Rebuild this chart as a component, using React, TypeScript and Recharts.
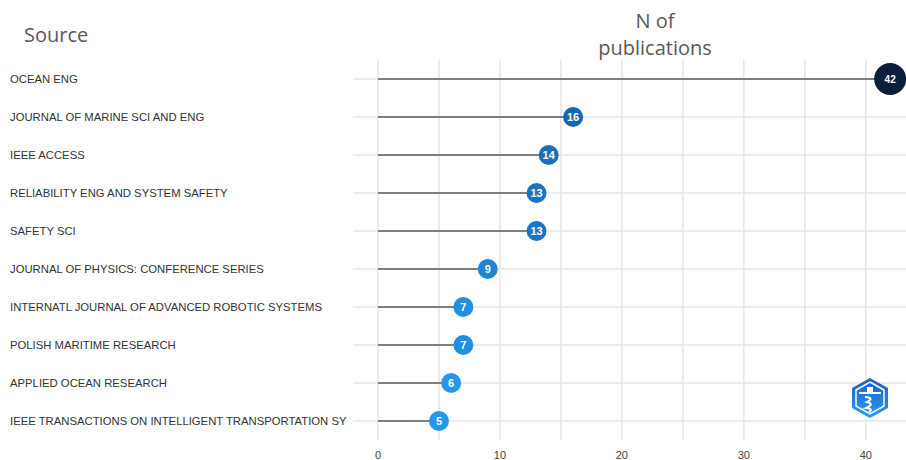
import React from "react";
import { BarChart, Bar, XAxis, YAxis, CartesianGrid } from "recharts";

const sources = [
  "OCEAN ENG",
  "JOURNAL OF MARINE SCI AND ENG",
  "IEEE ACCESS",
  "RELIABILITY ENG AND SYSTEM SAFETY",
  "SAFETY SCI",
  "JOURNAL OF PHYSICS: CONFERENCE SERIES",
  "INTERNATL JOURNAL OF ADVANCED ROBOTIC SYSTEMS",
  "POLISH MARITIME RESEARCH",
  "APPLIED OCEAN RESEARCH",
  "IEEE TRANSACTIONS ON INTELLIGENT TRANSPORTATION SY",
];
const publications = [42, 16, 14, 13, 13, 9, 7, 7, 6, 5];
const gridTicks = [0, 5, 10, 15, 20, 25, 30, 35, 40];
const xDomain = [-2.05, 43.3];

const data = sources.map((source, i) => ({ source, n: publications[i] }));

// continuous colour scale, dark navy for the biggest source
function dotColor(v: number) {
  if (v >= 30) return "#0b1f3b";
  if (v >= 16) return "#1767ad";
  if (v >= 14) return "#196fb9";
  if (v >= 13) return "#1b75c1";
  if (v >= 9) return "#1f86d4";
  if (v >= 7) return "#2290e2";
  return "#2598ec";
}

const Lollipop = (props: any) => {
  const { x, y, width, height, value } = props;
  const cy = y + height / 2;
  const cx = x + width;
  const big = value >= 30;
  const r = big ? 16 : 10;
  return (
    <g>
      <line x1={x} y1={cy} x2={cx} y2={cy} stroke="#7f7f7f" strokeWidth={2} />
      <circle cx={cx} cy={cy} r={r} fill={dotColor(value)} />
      <text
        x={cx}
        y={cy}
        dy="0.35em"
        textAnchor="middle"
        fill="#fff"
        fontSize={big ? 10 : 11}
        fontWeight="bold"
        fontFamily="Liberation Sans, Arial, sans-serif"
      >
        {value}
      </text>
    </g>
  );
};

const SourceTick = (props: any) => {
  const { y, payload } = props;
  return (
    <text
      x={10}
      y={y}
      dy="0.35em"
      textAnchor="start"
      fill="#333"
      fontSize={11.3}
      fontFamily="Liberation Sans, Arial, sans-serif"
    >
      {payload.value}
    </text>
  );
};

const Logo = () => (
  <svg
    width={38}
    height={42}
    viewBox="0 0 38 42"
    style={{ position: "absolute", left: 851, top: 377 }}
  >
    <defs>
      <linearGradient id="lg" x1="0" y1="0" x2="0" y2="1">
        <stop offset="0%" stopColor="#1f5fc4" />
        <stop offset="100%" stopColor="#2a9cf0" />
      </linearGradient>
    </defs>
    <polygon points="19,1 37,11 37,31 19,41 1,31 1,11" fill="url(#lg)" />
    <polygon points="19,5 33,13 33,29 19,37 5,29 5,13" fill="none" stroke="#fff" strokeWidth={1.5} />
    <rect x={8} y={15} width={22} height={2} fill="#fff" />
    <rect x={16} y={10} width={6} height={5} fill="#fff" />
    <path d="M14 20 Q24 21 16 25 Q24 27 15 31 Q23 32 18 35" stroke="#fff" strokeWidth={2} fill="none" />
  </svg>
);

// grid only at band centres and at the 5-step x ticks (no frame)
const hGrid = ({ offset }: any) =>
  sources.map((_, i) => offset.top + (offset.height * (i + 0.5)) / sources.length);
const vGrid = ({ offset }: any) =>
  gridTicks.map(
    (t) => offset.left + ((t - xDomain[0]) / (xDomain[1] - xDomain[0])) * offset.width
  );

export default function App() {
  return (
    <div style={{ position: "absolute", left: 0, top: 0, width: 906, height: 460, background: "#fff" }}>
      <div
        style={{
          position: "absolute",
          left: 24,
          top: 21,
          fontFamily: "Open Sans, sans-serif",
          fontSize: 20,
          color: "#595959",
        }}
      >
        Source
      </div>
      <div
        style={{
          position: "absolute",
          left: 555,
          width: 200,
          top: 7,
          textAlign: "center",
          fontFamily: "Open Sans, sans-serif",
          fontSize: 20,
          lineHeight: "27px",
          color: "#595959",
        }}
      >
        N of
        <br />
        publications
      </div>
      <BarChart
        width={906}
        height={460}
        data={data}
        layout="vertical"
        margin={{ top: 60, right: 0, bottom: 0, left: 0 }}
        barSize={2}
      >
        <CartesianGrid
          stroke="#e6e6e6"
          strokeWidth={1.5}
          horizontalCoordinatesGenerator={hGrid}
          verticalCoordinatesGenerator={vGrid}
        />
        <XAxis
          type="number"
          domain={xDomain}
          allowDataOverflow
          ticks={gridTicks}
          tickFormatter={(v: number) => (v % 10 === 0 ? String(v) : "")}
          axisLine={false}
          tickLine={false}
          height={20}
          dy={3}
          tick={{ fill: "#444", fontSize: 11, fontFamily: "Liberation Sans, Arial, sans-serif" }}
        />
        <YAxis
          type="category"
          dataKey="source"
          width={353}
          axisLine={false}
          tickLine={false}
          tick={<SourceTick />}
          interval={0}
        />
        <Bar dataKey="n" shape={<Lollipop />} isAnimationActive={false} />
      </BarChart>
      <Logo />
    </div>
  );
}
